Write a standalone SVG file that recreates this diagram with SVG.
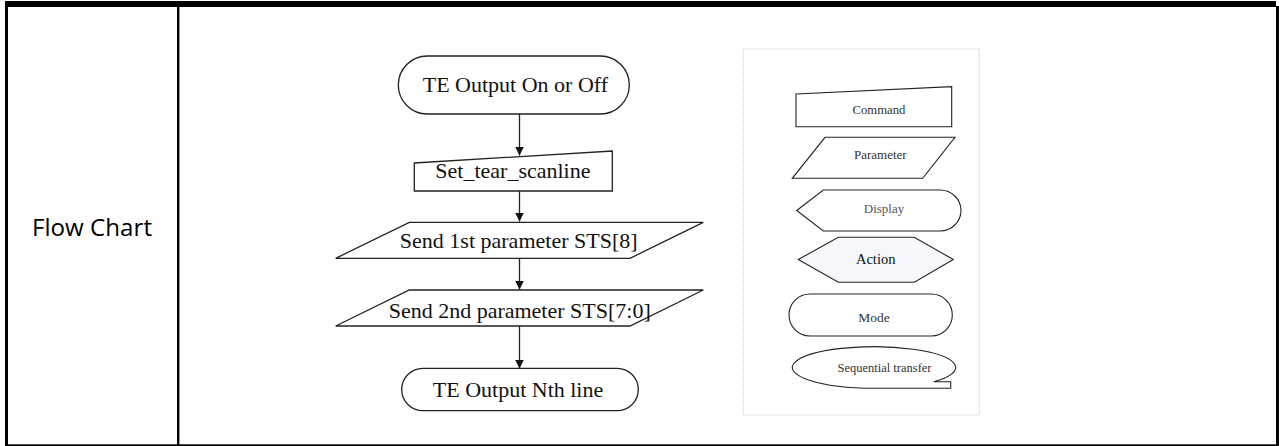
<svg xmlns="http://www.w3.org/2000/svg" width="1279" height="446" viewBox="0 0 1279 446">
<style>
.tbl{fill:#000}
.sh{fill:#fff;stroke:#222;stroke-width:1.3}
.lg{fill:#fff;stroke:#222;stroke-width:1.1}
.ft{font-family:"Liberation Serif","Times New Roman",serif;font-size:22px;fill:#111;text-anchor:middle}
.lt{font-family:"Liberation Serif","Times New Roman",serif;font-size:13px;fill:#333;text-anchor:middle}
.cn{stroke:#222;stroke-width:1.3;fill:none;marker-end:url(#arr)}
</style>
<defs>
<marker id="arr" viewBox="0 0 10 10" refX="10" refY="5" markerWidth="9" markerHeight="10" markerUnits="userSpaceOnUse" orient="auto">
<path d="M0,0 L10,5 L0,10 Z" fill="#111"/>
</marker>
</defs>
<rect width="1279" height="446" fill="#fff"/>
<g id="table">
<rect class="tbl" x="5" y="1" width="1271" height="6"/>
<rect class="tbl" x="1276" y="6" width="3" height="440"/>
<rect class="tbl" x="5" y="3" width="3" height="443"/>
<rect class="tbl" x="177" y="7" width="2.4" height="439"/>
<rect class="tbl" x="5" y="444.3" width="1274" height="1.7"/>
<text x="32" y="236" style="font-family:'Open Sans','Noto Sans',sans-serif;font-size:23px;fill:#000" textLength="120" lengthAdjust="spacingAndGlyphs">Flow Chart</text>
</g>
<g id="connectors">
<line class="cn" x1="519.5" y1="114" x2="519.5" y2="155.5"/>
<line class="cn" x1="519.5" y1="191" x2="519.5" y2="221.5"/>
<line class="cn" x1="519.5" y1="258.3" x2="519.5" y2="289.5"/>
<line class="cn" x1="519.5" y1="326" x2="519.5" y2="368.5"/>
</g>
<g id="n1">
<rect class="sh" x="398.3" y="56" width="231" height="58" rx="29" ry="29"/>
<text class="ft" x="515.4" y="92">TE Output On or Off</text>
</g>
<g id="n2">
<path class="sh" d="M414.3,163 L612.3,151 L612.3,191 L414.3,191 Z"/>
<text class="ft" x="512.9" y="178.3">Set_tear_scanline</text>
</g>
<g id="n3">
<path class="sh" d="M409.3,222.3 L703.3,222.3 L630,258.3 L335.7,258.3 Z"/>
<text class="ft" x="518.7" y="247.7">Send 1st parameter STS[8]</text>
</g>
<g id="n4">
<path class="sh" d="M409.3,290 L703.3,290 L630,326 L335.7,326 Z"/>
<text class="ft" x="519.7" y="318.3">Send 2nd parameter STS[7:0]</text>
</g>
<g id="n5">
<rect class="sh" x="401.7" y="368.3" width="236.6" height="42.4" rx="21.2" ry="21.2"/>
<text class="ft" x="518" y="396.7">TE Output Nth line</text>
</g>
<g id="legend">
<rect x="743.3" y="49" width="236" height="366" fill="#fff" stroke="#c8c8c8" stroke-width="1" stroke-dasharray="1,1"/>
<g id="lg-command">
<path class="lg" d="M796,94 L951.7,86.7 L951.7,126.7 L796,126.7 Z"/>
<text class="lt" x="879" y="114" style="font-size:12.7px">Command</text>
</g>
<g id="lg-parameter">
<path class="lg" d="M825,137.3 L955,137.3 L922.7,178.3 L792.3,178.3 Z"/>
<text class="lt" x="880.3" y="159.3">Parameter</text>
</g>
<g id="lg-display">
<path class="lg" d="M796.7,210.5 L823.3,190 L940,190 A21 20.5 0 0 1 940,231 L823.3,231 Z"/>
<text class="lt" x="884" y="213.3" style="fill:#555">Display</text>
</g>
<g id="lg-action">
<path d="M798.3,259.5 L838.3,237.3 L914.3,237.3 L953.3,259.5 L914.3,282.3 L838.3,282.3 Z" fill="#f5f7fb" stroke="#222" stroke-width="1.1"/>
<text class="lt" x="875.7" y="264.3" style="font-size:14.5px;fill:#111">Action</text>
</g>
<g id="lg-mode">
<rect class="lg" x="789" y="294" width="163.3" height="42" rx="21" ry="21"/>
<text class="lt" x="874" y="321.7" style="font-size:13.5px">Mode</text>
</g>
<g id="lg-seq">
<path class="lg" d="M874,388.3 A81.7 20.8 0 1 1 933.7,381.7 L950.7,381.7 L950.7,388.3 Z"/>
<text class="lt" x="884.5" y="371.7" style="font-size:12.5px">Sequential transfer</text>
</g>
</g>
</svg>
